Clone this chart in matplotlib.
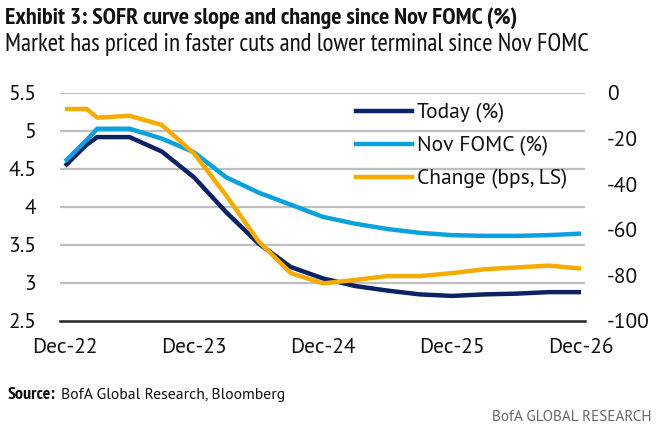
import matplotlib
matplotlib.use("Agg")
import matplotlib.pyplot as plt
from matplotlib.lines import Line2D

BODY = ['Source Sans Pro', 'PT Sans', 'Roboto', 'DejaVu Sans']
NARROW = ['PT Sans Narrow', 'Asap Condensed', 'DejaVu Sans']
plt.rcParams['font.family'] = BODY

# Data (x = months since Dec-22)
months = [0, 2, 3, 6, 9, 12, 15, 18, 21, 24, 27, 30, 33, 36, 39, 42, 45, 48]
today = [4.54, 4.82, 4.92, 4.92, 4.73, 4.39, 3.93, 3.52, 3.21, 3.06, 2.96, 2.90, 2.85, 2.83, 2.85, 2.86, 2.88, 2.88]
nov_fomc = [4.60, 4.88, 5.03, 5.03, 4.90, 4.72, 4.39, 4.19, 4.03, 3.87, 3.78, 3.71, 3.66, 3.63, 3.62, 3.62, 3.63, 3.65]
change = [-7, -7, -10.8, -10, -14, -26.5, -45, -65, -79, -83.5, -82, -80.3, -80.3, -79, -77.3, -76.5, -75.7, -77]
tick_pos = [0, 12, 24, 36, 48]
tick_labels = ['Dec-22', 'Dec-23', 'Dec-24', 'Dec-25', 'Dec-26']
left_ticks = [2.5, 3, 3.5, 4, 4.5, 5, 5.5]
left_labels = ['2.5', '3', '3.5', '4', '4.5', '5', '5.5']
right_ticks = [-100, -80, -60, -40, -20, 0]

NAVY = '#0B2265'
BLUE = '#0AA1DD'
GOLD = '#F5AB00'
GRID = '#BFBFBF'

W, H = 659, 434
fig = plt.figure(figsize=(W / 100, H / 100), dpi=100)
x0, x1, y0, y1 = 60, 585, 93, 321
ax = fig.add_axes([x0 / W, 1 - y1 / H, (x1 - x0) / W, (y1 - y0) / H])
ax2 = ax.twinx()

ax.plot(months, today, color=NAVY, lw=3.2, solid_joinstyle='round', solid_capstyle='butt')
ax.plot(months, nov_fomc, color=BLUE, lw=3.2, solid_joinstyle='round', solid_capstyle='butt')
ax2.plot(months, change, color=GOLD, lw=3.2, solid_joinstyle='round', solid_capstyle='butt')

ax.set_xlim(-0.47, 48.37)
ax.set_ylim(2.5, 5.5)
ax2.set_ylim(-100, 0)

for yv in left_ticks[1:]:
    ax.axhline(yv, color=GRID, lw=1.6, zorder=0)

for a in (ax, ax2):
    for s in a.spines.values():
        s.set_visible(False)
ax.spines['bottom'].set_visible(True)
ax.spines['bottom'].set_color('#222222')
ax.spines['bottom'].set_linewidth(1.8)

ax.set_xticks(tick_pos)
ax.set_xticklabels(tick_labels)
ax.set_yticks(left_ticks)
ax.set_yticklabels(left_labels)
ax2.set_yticks(right_ticks)
ax2.set_yticklabels([str(v) for v in right_ticks])

TS = 15.5
ax.tick_params(axis='x', length=0, pad=12, labelsize=TS, colors='#111111')
ax.tick_params(axis='y', length=0, pad=17, labelsize=TS, colors='#111111')
ax2.tick_params(axis='y', length=0, pad=16, labelsize=TS, colors='#111111')
for lab in ax2.get_yticklabels():
    lab.set_horizontalalignment('left')

handles = [Line2D([], [], color=NAVY, lw=3.2), Line2D([], [], color=BLUE, lw=3.2), Line2D([], [], color=GOLD, lw=3.2)]
labels = ['Today (%)', 'Nov FOMC (%)', 'Change (bps, LS)']
leg = ax2.legend(handles, labels, loc='upper left', bbox_to_anchor=(356 / W, 1 - 103 / H),
                 bbox_transform=fig.transFigure, frameon=False, fontsize=TS,
                 handlelength=2.6, handletextpad=0.25, labelspacing=0.6,
                 borderpad=0, borderaxespad=0)
for t in leg.get_texts():
    t.set_color('#111111')

fig.text(5 / W, 1 - 18 / H, 'Exhibit 3: SOFR curve slope and change since Nov FOMC (%)',
         fontsize=17.3, fontweight='bold', color='#111111', va='center', ha='left', family=NARROW)
fig.text(5 / W, 1 - 45 / H, 'Market has priced in faster cuts and lower terminal since Nov FOMC',
         fontsize=18, color='#111111', va='center', ha='left', family=NARROW)
fig.text(8 / W, 1 - 395 / H, 'Source:', fontsize=13, fontweight='bold', color='#111111', va='center', ha='left', family=NARROW)
fig.text(61 / W, 1 - 395 / H, 'BofA Global Research, Bloomberg', fontsize=11.3, color='#111111', va='center', ha='left')
fig.text(652 / W, 1 - 417 / H, 'BofA GLOBAL RESEARCH', fontsize=11, color='#666666', va='center', ha='right')

fig.savefig('out.png', dpi=100)
